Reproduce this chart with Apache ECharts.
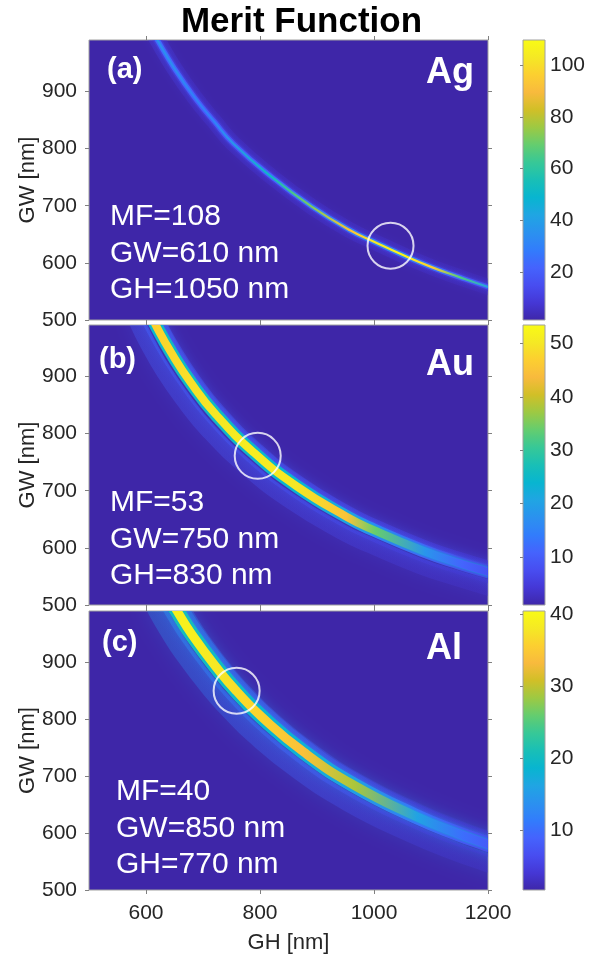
<!DOCTYPE html>
<html>
<head>
<meta charset="utf-8">
<title>Merit Function</title>
<script src="https://cdn.jsdelivr.net/npm/echarts@6/dist/echarts.min.js"></script>
<style>
  html, body { margin: 0; padding: 0; background: #fff; }
  #chart { width: 603px; height: 958px; }
</style>
</head>
<body>
<div id="chart"></div>
<script>
// ---- values ----
var ghTicks = [600, 800, 1000, 1200];
var gwTicks = [500, 600, 700, 800, 900];

// (a) Ag  -- ridge of the merit function
var ghAg   = [600, 620, 650, 685, 720, 753, 821, 890, 958, 1000, 1050, 1100, 1150, 1200, 1230];
var gwAg   = [1026, 990, 940, 890, 847, 809, 750, 699, 657, 637, 614, 593, 575, 558, 549];
var mfAg   = [36, 36, 34, 30, 30, 36, 52, 72, 92, 103, 108, 95, 65, 38, 30];
var edgeAg = [26, 26, 24, 20, 18, 18, 22, 28, 32, 34, 34, 28, 20, 14, 12];
var haloAg = [12, 12, 11, 9, 8, 8, 8, 8, 8, 8, 8, 7, 6, 5, 5];
var cbAg = [1.5, 109.7];
var cbTicksAg = [20, 40, 60, 80, 100];

// (b) Au
var ghAu     = [600, 617, 644, 678, 722, 789, 864, 951, 1000, 1086, 1150, 1200, 1230];
var gwAu     = [1024, 990, 942, 890, 834, 767, 708, 655, 631, 595, 573, 558, 549];
var mfAu     = [47, 47, 48, 49, 50, 51, 50, 45, 34, 18, 11, 8, 7];
var edgeAu   = [24, 24, 26, 26, 26, 25, 24, 20, 15, 10, 7, 6, 5];
var haloAu   = [11, 11, 11, 10, 10, 9, 8, 7, 6, 5, 4, 4, 4];
var darkGwAu = [999, 965, 918, 869, 815, 751, 694, 642, 619, 583, 562, 547, 538];
var cbAu = [1, 53.5];
var cbTicksAu = [10, 20, 30, 40, 50];

// (c) Al
var ghAl     = [635, 654, 681, 729, 759, 803, 877, 965, 1072, 1150, 1195, 1230];
var gwAl     = [1024, 991, 948, 884, 849, 804, 742, 684, 630, 598, 582, 570];
var mfAl     = [39, 39, 39, 38, 37, 36, 34, 29, 16, 10, 8, 7];
var edgeAl   = [21, 21, 21, 20, 20, 19, 18, 15, 10, 7, 6, 5];
var haloAl   = [14, 14, 13, 12, 11, 10, 9, 7, 5, 4, 4, 4];
var darkGwAl = [1002, 969, 927, 864, 831, 787, 727, 670, 617, 585, 569, 557];
var cbAl = [1.6, 40.5];
var cbTicksAl = [10, 20, 30, 40];

// optimum markers (circles) and the text next to them
var optGH = [1029, 796, 759];
var optGW = [630, 761, 850];
var metals = ['Ag', 'Au', 'Al'];
var panelTags = ['(a)', '(b)', '(c)'];
var optMF = [108, 53, 40];
var optGWlabel = [610, 750, 850];
var optGHlabel = [1050, 830, 770];

// ---- parula colormap ----
var parulaRGB = [
  [0.2422, 0.1504, 0.6603], [0.2706, 0.2147, 0.8364], [0.2813, 0.3006, 0.9414],
  [0.2699, 0.3892, 0.9906], [0.1963, 0.4847, 0.9892], [0.1687, 0.5703, 0.9359],
  [0.1248, 0.6459, 0.8883], [0.0297, 0.7082, 0.8163], [0.0964, 0.7500, 0.7120],
  [0.2161, 0.7843, 0.5923], [0.3909, 0.8029, 0.4354], [0.6174, 0.7876, 0.2612],
  [0.8203, 0.7498, 0.1535], [0.9728, 0.7298, 0.2394], [0.9892, 0.8136, 0.1885],
  [0.9597, 0.9135, 0.1423], [0.9769, 0.9839, 0.0805]
];
function parula(t, alpha) {
  t = Math.max(0, Math.min(1, t));
  var n = parulaRGB.length - 1, f = t * n, i = Math.min(n - 1, Math.floor(f)), u = f - i;
  var a = parulaRGB[i], b = parulaRGB[i + 1];
  var rgb = [0, 1, 2].map(function (k) { return Math.round(255 * (a[k] + (b[k] - a[k]) * u)); });
  return alpha == null ? 'rgb(' + rgb.join(',') + ')' : 'rgba(' + rgb.join(',') + ',' + alpha + ')';
}

var LG = echarts.graphic.LinearGradient;
var FONT = '"Liberation Sans", Arial, Helvetica, sans-serif';
var INK = '#262626';
var FRAME = '#a0a0a0';

function pairs(xs, ys) { return xs.map(function (x, i) { return [x, ys[i]]; }); }
function alongRidge(gh, vals, cb, alpha) {
  var a = gh[0], b = gh[gh.length - 1];
  return new LG(0, 0, 1, 0, gh.map(function (g, i) {
    return { offset: (g - a) / (b - a), color: parula((vals[i] - cb[0]) / (cb[1] - cb[0]), alpha) };
  }));
}
function colorbarFill() {
  var stops = [];
  for (var i = 0; i <= 32; i++) stops.push({ offset: i / 32, color: parula(i / 32) });
  return new LG(0, 1, 0, 0, stops);
}
function plain(v) { return String(v); }

var panels = [
  { gh: ghAg, gw: gwAg, mf: mfAg, edge: edgeAg, halo: haloAg, dark: null, cb: cbAg, cbTicks: cbTicksAg,
    w: { halo1: 16, halo2: 8, edge: 5, core: 2.2, blur: 8 } },
  { gh: ghAu, gw: gwAu, mf: mfAu, edge: edgeAu, halo: haloAu, dark: darkGwAu, cb: cbAu, cbTicks: cbTicksAu,
    w: { halo1: 34, halo2: 22, edge: 13, core: 8, blur: 18 } },
  { gh: ghAl, gw: gwAl, mf: mfAl, edge: edgeAl, halo: haloAl, dark: darkGwAl, cb: cbAl, cbTicks: cbTicksAl,
    w: { halo1: 40, halo2: 24, edge: 15, core: 9, blur: 20 } }
];
var plotTop = [40, 325, 611];
var plotH = [280, 280, 279];

var grids = [], xAxes = [], yAxes = [], series = [], texts = [];

// main panels: grids 0..2, axes 2p (bottom/left) and 2p+1 (top/right mirror)
panels.forEach(function (P, p) {
  grids.push({ left: 89, width: 399, top: plotTop[p], height: plotH[p], show: true,
    backgroundColor: parula(0), borderColor: FRAME, borderWidth: 1 });
  var tickStyle = { show: true, length: 4, lineStyle: { color: '#808080', width: 1 } };
  xAxes.push({
    gridIndex: p, type: 'value', min: 500, max: 1200, position: 'bottom',
    axisLine: { show: false },
    axisTick: Object.assign({ customValues: ghTicks }, tickStyle),
    axisLabel: { show: p === 2, customValues: ghTicks, formatter: plain, margin: 13,
      color: INK, fontSize: 21, fontFamily: FONT },
    splitLine: { show: false },
    name: p === 2 ? 'GH [nm]' : '', nameLocation: 'middle', nameGap: 42, nameMoveOverlap: false,
    nameTextStyle: { color: INK, fontSize: 22, fontFamily: FONT }
  });
  xAxes.push({
    gridIndex: p, type: 'value', min: 500, max: 1200, position: 'top',
    axisLine: { show: false },
    axisTick: Object.assign({ customValues: ghTicks }, tickStyle),
    axisLabel: { show: false }, splitLine: { show: false }
  });
  yAxes.push({
    gridIndex: p, type: 'value', min: 500, max: 990, position: 'left',
    axisLine: { show: false },
    axisTick: Object.assign({ customValues: gwTicks }, tickStyle),
    axisLabel: { customValues: gwTicks, formatter: plain, margin: 12, color: INK, fontSize: 21, fontFamily: FONT },
    splitLine: { show: false },
    name: 'GW [nm]', nameLocation: 'middle', nameGap: 50, nameMoveOverlap: false,
    nameTextStyle: { color: INK, fontSize: 22, fontFamily: FONT }
  });
  yAxes.push({
    gridIndex: p, type: 'value', min: 500, max: 990, position: 'right',
    axisLine: { show: false },
    axisTick: Object.assign({ customValues: gwTicks }, tickStyle),
    axisLabel: { show: false }, splitLine: { show: false }
  });

  var ax = { xAxisIndex: 2 * p, yAxisIndex: 2 * p };
  // one smooth polyline through the read ridge points, placed with the axes' scales
  function ridge(ys, stroke, width, z, extra) {
    return Object.assign({
      type: 'custom', data: pairs(P.gh, ys), clip: true, silent: true, z: z,
      renderItem: function (params, api) {
        if (params.dataIndex !== 0) return null;
        var pts = P.gh.map(function (g, i) { return api.coord([g, ys[i]]); });
        return {
          type: 'polyline', shape: { points: pts, smooth: 0.5 },
          style: Object.assign({ stroke: stroke, fill: null, lineWidth: width, lineCap: 'round', lineJoin: 'round' }, extra || {})
        };
      }
    }, ax);
  }
  var haloCol = parula((P.halo[2] - P.cb[0]) / (P.cb[1] - P.cb[0]), 0.6);
  series.push(ridge(P.dark || P.gw, alongRidge(P.gh, P.halo, P.cb, 0.3), P.w.halo1, 2,
    { shadowBlur: P.w.blur, shadowColor: haloCol }));
  series.push(ridge(P.gw, alongRidge(P.gh, P.halo, P.cb, 0.42), P.w.halo2, 3,
    { shadowBlur: P.w.blur / 2, shadowColor: haloCol }));
  if (P.dark) {
    series.push(ridge(P.dark, 'rgba(56,34,150,0.85)', 1.8, 4, { shadowBlur: 2, shadowColor: 'rgba(56,34,150,0.7)' }));
  }
  series.push(ridge(P.gw, alongRidge(P.gh, P.edge, P.cb), P.w.edge, 5,
    { shadowBlur: 4, shadowColor: haloCol }));
  series.push(ridge(P.gw, alongRidge(P.gh, P.mf, P.cb), P.w.core, 6,
    { shadowBlur: 3, shadowColor: parula((P.edge[6] - P.cb[0]) / (P.cb[1] - P.cb[0])) }));

  // optimum circle
  series.push(Object.assign({
    type: 'scatter', data: [[optGH[p], optGW[p]]], symbol: 'circle', symbolSize: 46,
    silent: true, z: 10,
    itemStyle: { color: 'rgba(0,0,0,0)', borderColor: '#ffffff', borderWidth: 2 }
  }, ax));
});

// colorbars: grids 3..5
panels.forEach(function (P, p) {
  grids.push({ left: 523, width: 22, top: plotTop[p], height: plotH[p], show: true,
    backgroundColor: colorbarFill(), borderColor: FRAME, borderWidth: 1 });
  xAxes.push({ gridIndex: 3 + p, type: 'value', min: 0, max: 1, show: false });
  yAxes.push({
    gridIndex: 3 + p, type: 'value', min: P.cb[0], max: P.cb[1], position: 'right',
    axisLine: { show: false },
    axisTick: { show: true, inside: true, length: 3, customValues: P.cbTicks, lineStyle: { color: '#808080' } },
    axisLabel: { customValues: P.cbTicks, formatter: plain, margin: 5, color: INK, fontSize: 21, fontFamily: FONT },
    splitLine: { show: false }
  });
});

// labels inside the panels
var tagX = [107, 99, 102], tagY = [71, 361, 644];
var metalY = [75, 367, 651];
var mfX = [110, 110, 116], mfY = [219, 505, 794];
var lineGap = 36.5;
for (var p = 0; p < 3; p++) {
  texts.push({ type: 'text', left: tagX[p], top: tagY[p] - 16, z: 20,
    style: { text: panelTags[p], fill: '#fff', font: 'bold 29px ' + FONT } });
  texts.push({ type: 'text', left: 426, top: metalY[p] - 20, z: 20,
    style: { text: metals[p], fill: '#fff', font: 'bold 36px ' + FONT } });
  var lines = ['MF=' + optMF[p], 'GW=' + optGWlabel[p] + ' nm', 'GH=' + optGHlabel[p] + ' nm'];
  lines.forEach(function (s, k) {
    texts.push({ type: 'text', left: mfX[p], top: mfY[p] + k * lineGap - 17, z: 20,
      style: { text: s, fill: '#fff', font: '30px ' + FONT } });
  });
}
texts.push({ type: 'text', left: 'center', top: 5, z: 20,
  style: { text: 'Merit Function', fill: '#000', font: 'bold 35px ' + FONT } });

var chart = echarts.init(document.getElementById('chart'));
chart.setOption({
  animation: false,
  backgroundColor: '#ffffff',
  grid: grids,
  xAxis: xAxes,
  yAxis: yAxes,
  series: series,
  graphic: texts
});
</script>
</body>
</html>
